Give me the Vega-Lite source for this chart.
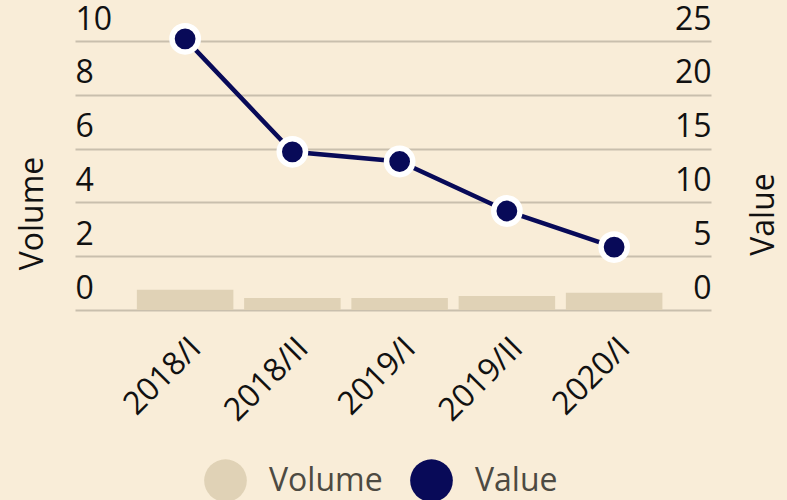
{
  "$schema": "https://vega.github.io/schema/vega-lite/v6.json",
  "width": 636,
  "height": 269,
  "autosize": {"type": "none"},
  "padding": {"left": 75, "top": 41, "right": 76, "bottom": 190},
  "background": "#F9EDD8",
  "config": {"view": {"stroke": null}, "font": "Open Sans"},
  "data": {
    "values": [
      {"period": "2018/I", "volume": 0.75, "value": 25.2},
      {"period": "2018/II", "volume": 0.45, "value": 14.7},
      {"period": "2019/I", "volume": 0.45, "value": 13.8},
      {"period": "2019/II", "volume": 0.52, "value": 9.2},
      {"period": "2020/I", "volume": 0.64, "value": 5.85}
    ]
  },
  "encoding": {
    "x": {
      "field": "period",
      "type": "nominal",
      "sort": null,
      "scale": {"paddingInner": 0.1, "paddingOuter": 0.515, "align": 0.56},
      "axis": {
        "title": null,
        "labelAngle": -45,
        "labelFontSize": 32,
        "labelColor": "#111111",
        "ticks": false,
        "tickSize": 0,
        "domain": false,
        "grid": false,
        "labelPadding": 22
      }
    }
  },
  "layer": [
    {
      "mark": {"type": "bar"},
      "encoding": {
        "y": {
          "field": "volume",
          "type": "quantitative",
          "scale": {"domain": [0, 10], "nice": false},
          "axis": {
            "orient": "left",
            "title": "Volume",
            "values": [0, 2, 4, 6, 8, 10],
            "grid": true,
            "gridColor": "#C9BFAD",
            "gridWidth": 2,
            "domain": false,
            "ticks": false,
            "tickSize": 0,
            "labelAlign": "left",
            "labelBaseline": "alphabetic",
            "labelPadding": 0,
            "labelOffset": -12,
            "labelFontSize": 32,
            "labelColor": "#111111",
            "labelFlush": false,
            "labelOverlap": false,
            "titleFontSize": 32,
            "titleFontWeight": "normal",
            "titleColor": "#111111",
            "titleAngle": -90,
            "titleX": -33,
            "titleY": 172,
            "titleAlign": "center",
            "titleBaseline": "alphabetic"
          }
        },
        "fill": {
          "datum": "Volume",
          "type": "nominal",
          "scale": {"domain": ["Volume", "Value"], "range": ["#E0D2B6", "#080A58"]},
          "legend": {
            "orient": "none",
            "legendX": 129,
            "legendY": 418,
            "direction": "horizontal",
            "title": null,
            "padding": 0,
            "symbolType": "circle",
            "symbolSize": 1820,
            "symbolStrokeWidth": 0,
            "symbolOpacity": 1,
            "labelFontSize": 32,
            "labelColor": "#4D4A42",
            "labelOffset": 22,
            "columnPadding": 27
          }
        }
      }
    },
    {
      "layer": [
        {
          "mark": {"type": "line", "color": "#080A58", "strokeWidth": 4.5},
          "encoding": {
            "y": {
              "field": "value",
              "type": "quantitative",
              "scale": {"domain": [0, 25], "nice": false},
              "axis": {
                "orient": "right",
                "title": "Value",
                "values": [0, 5, 10, 15, 20, 25],
                "grid": false,
                "domain": false,
                "ticks": false,
                "tickSize": 0,
                "labelAlign": "right",
                "labelBaseline": "alphabetic",
                "labelPadding": 0,
                "labelOffset": -12,
                "labelFontSize": 32,
                "labelColor": "#111111",
                "labelFlush": false,
                "labelOverlap": false,
                "titleFontSize": 32,
                "titleFontWeight": "normal",
                "titleColor": "#111111",
                "titleAngle": -90,
                "titleX": 62,
                "titleY": 173,
                "titleAlign": "center",
                "titleBaseline": "alphabetic"
              }
            }
          }
        },
        {
          "mark": {"type": "point", "filled": true, "size": 690, "stroke": "white", "strokeWidth": 5.5, "opacity": 1},
          "encoding": {
            "y": {"field": "value", "type": "quantitative"},
            "fill": {"datum": "Value", "type": "nominal"}
          }
        }
      ]
    }
  ],
  "resolve": {"scale": {"y": "independent"}}
}
